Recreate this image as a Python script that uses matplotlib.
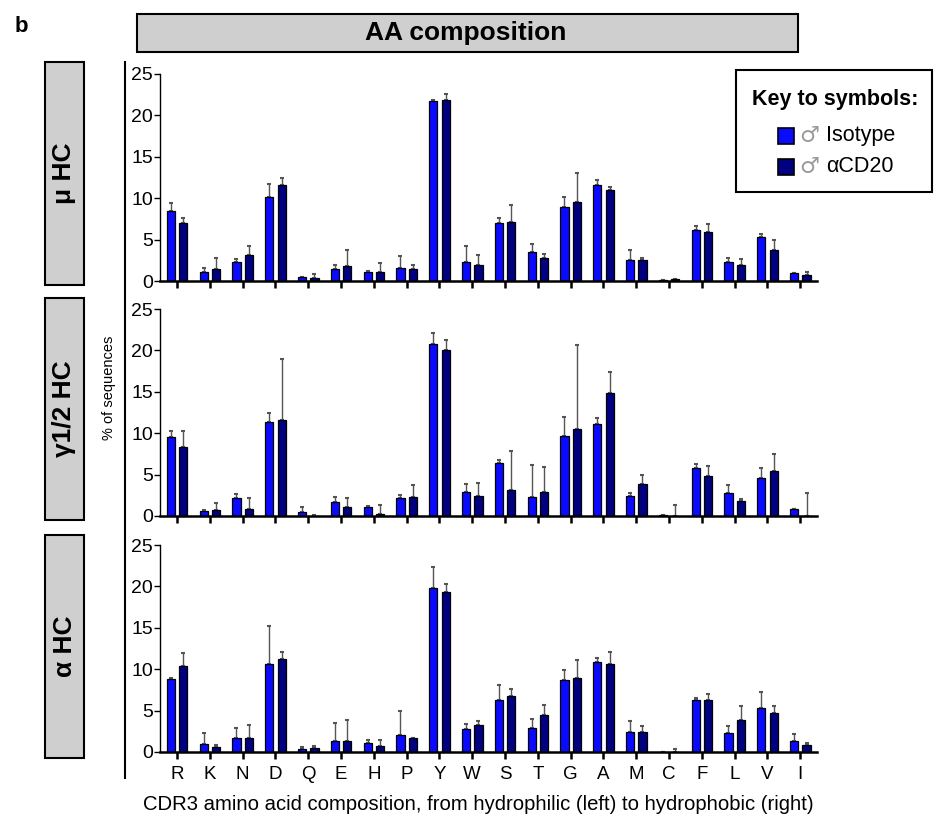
import matplotlib
matplotlib.use('Agg')
import matplotlib.pyplot as plt
from matplotlib.patches import Rectangle
from matplotlib.lines import Line2D
import numpy as np

#	-	-	-	-	-	DATA	-	-	-	-	-	#
amino = ['R', 'K', 'N', 'D', 'Q', 'E', 'H', 'P', 'Y', 'W',
         'S', 'T', 'G', 'A', 'M', 'C', 'F', 'L', 'V', 'I']

panel_names = ['\u03bc HC', '\u03b31/2 HC', '\u03b1 HC']
series_names = ['Isotype', '\u03b1CD20']

#	mu HC
mu_iso = [8.5, 1.09, 2.27, 10.2, 0.45, 1.46, 1.09, 1.62, 21.68, 2.27,
          6.96, 3.56, 8.9, 11.65, 2.5, 0.08, 6.15, 2.27, 5.26, 0.97]
mu_iso_err = [0.97, 0.51, 0.43, 1.5, 0.05, 0.48, 0.08, 1.45, 0.12, 1.93,
              0.64, 0.89, 1.3, 0.55, 1.3, 0.0, 0.45, 0.53, 0.4, 0.0]
mu_cd20 = [6.96, 1.5, 3.2, 11.65, 0.4, 1.86, 1.09, 1.46, 21.8, 1.98,
           7.08, 2.75, 9.55, 10.96, 2.5, 0.2, 5.9, 1.98, 3.72, 0.73]
mu_cd20_err = [0.64, 1.3, 1.0, 0.81, 0.4, 1.94, 1.05, 0.44, 0.77, 1.18,
               2.06, 0.55, 3.55, 0.44, 0.33, 0.04, 0.94, 0.62, 1.28, 0.4]

#	gamma1/2 HC
g_iso = [9.5, 0.57, 2.15, 11.32, 0.45, 1.75, 1.14, 2.15, 20.78, 2.84,
         6.37, 2.31, 9.66, 11.08, 2.44, 0.12, 5.84, 2.72, 4.55, 0.85]
g_iso_err = [0.73, 0.2, 0.49, 1.1, 0.65, 0.56, 0.04, 0.33, 1.34, 1.06,
             0.37, 3.89, 2.31, 0.77, 0.28, 0.0, 0.45, 0.97, 1.21, 0.0]
g_cd20 = [8.28, 0.73, 0.89, 11.6, 0.04, 1.14, 0.2, 2.31, 20.0, 2.44,
          3.08, 2.84, 10.55, 14.9, 3.9, 0.0, 4.83, 1.79, 5.48, 0.0]
g_cd20_err = [1.99, 0.85, 1.3, 7.4, 0.12, 1.05, 1.14, 1.46, 1.27, 1.5,
              4.82, 3.13, 10.05, 2.5, 1.01, 1.38, 1.26, 0.32, 1.95, 2.76]

#	alpha HC
a_iso = [8.79, 0.97, 1.73, 10.6, 0.32, 1.37, 1.09, 2.1, 19.8, 2.78,
         6.33, 2.9, 8.67, 10.89, 2.42, 0.0, 6.29, 2.26, 5.28, 1.37]
a_iso_err = [0.12, 1.29, 1.21, 4.6, 0.33, 2.1, 0.32, 2.86, 2.58, 0.65,
             1.82, 1.05, 1.29, 0.52, 1.33, 0.0, 0.28, 0.89, 1.94, 0.77]
a_cd20 = [10.4, 0.56, 1.69, 11.29, 0.44, 1.37, 0.69, 1.73, 19.27, 3.27,
          6.77, 4.48, 8.91, 10.65, 2.42, 0.0, 6.29, 3.87, 4.76, 0.81]
a_cd20_err = [1.54, 0.29, 1.58, 0.77, 0.25, 2.46, 0.76, 0.0, 1.05, 0.48,
              0.81, 1.21, 2.22, 1.37, 0.73, 0.32, 0.73, 1.69, 0.84, 0.32]

#	-	-	-	-	-	STYLE	-	-	-	-	-	#
W, H = 940, 826
iso_color = '#0a0aff'
cd20_color = '#000080'
box_grey = '#d0cfd0'
err_grey = '#555555'

plt.rcParams['font.family'] = ['Liberation Sans', 'DejaVu Sans']


def fx(px):
	return px / W


def fy(py):
	return 1 - py / H


fig = plt.figure(figsize=(9.4, 8.26), dpi=100)

#	-	-	-	-	-	PANELS	-	-	-	-	-	#
panels = [
	(mu_iso, mu_iso_err, mu_cd20, mu_cd20_err, 74, 281),
	(g_iso, g_iso_err, g_cd20, g_cd20_err, 309, 516),
	(a_iso, a_iso_err, a_cd20, a_cd20_err, 545, 752),
]
label_boxes = [(62, 285), (298, 520), (535, 758)]

x = np.arange(len(amino))
bw = 0.25
off = 0.19

for i, (iso, iso_e, cd, cd_e, ytop, ybot) in enumerate(panels):
	ax = fig.add_axes([fx(160), fy(ybot), fx(817) - fx(160), (ybot - ytop) / H])
	ax.bar(x - off, iso, bw, color=iso_color, edgecolor='black', linewidth=0.9, zorder=2)
	ax.bar(x + off, cd, bw, color=cd20_color, edgecolor='black', linewidth=0.9, zorder=2)
	zeros = np.zeros(len(amino))
	ax.errorbar(x - off, iso, yerr=[zeros, iso_e], fmt='none', ecolor=err_grey,
	            elinewidth=1.0, capsize=1.2, capthick=1.5, zorder=1)
	ax.errorbar(x + off, cd, yerr=[zeros, cd_e], fmt='none', ecolor=err_grey,
	            elinewidth=1.0, capsize=1.2, capthick=1.5, zorder=1)

	ax.set_xlim(-0.52, 19.51)
	ax.set_ylim(0, 25)
	ax.set_yticks([0, 5, 10, 15, 20, 25])
	ax.spines['top'].set_visible(False)
	ax.spines['right'].set_visible(False)
	ax.spines['left'].set_linewidth(1.0)
	ax.spines['bottom'].set_linewidth(1.8)
	ax.tick_params(axis='y', direction='out', length=4, width=1, labelsize=14, pad=1)
	ax.tick_params(axis='x', direction='out', length=5, width=1.8, labelsize=13.5, pad=5)
	ax.set_xticks(x)
	if i == 2:
		ax.set_xticklabels(amino)
	else:
		ax.set_xticklabels([])

	#	side label box
	bx0, bx1 = 45, 84
	by0, by1 = label_boxes[i]
	fig.add_artist(Rectangle((fx(bx0), fy(by1)), fx(bx1) - fx(bx0), (by1 - by0) / H,
	                         facecolor=box_grey, edgecolor='black', linewidth=1.5,
	                         transform=fig.transFigure))
	fig.text(fx((bx0 + bx1) / 2), fy((by0 + by1) / 2), panel_names[i], rotation=90,
	         ha='center', va='center', fontsize=19, fontweight='bold')

#	-	-	-	-	-	DECORATION	-	-	-	-	-	#
fig.text(fx(21), fy(27), 'b', fontsize=16, fontweight='bold', ha='center', va='center')

fig.add_artist(Rectangle((fx(137), fy(52)), fx(798) - fx(137), 38 / H,
                         facecolor=box_grey, edgecolor='black', linewidth=1.5,
                         transform=fig.transFigure))
fig.text(fx(466), fy(33), 'AA composition', fontsize=19, fontweight='bold',
         ha='center', va='center')

fig.add_artist(Line2D([fx(125), fx(125)], [fy(62), fy(778)], color='black',
                      linewidth=1.5, transform=fig.transFigure))

fig.text(fx(109), fy(388), '% of sequences', rotation=90, fontsize=10.5,
         ha='center', va='center')
fig.text(fx(478), fy(805), 'CDR3 amino acid composition, from hydrophilic (left) to hydrophobic (right)',
         fontsize=14.6, ha='center', va='center')

#	-	-	-	-	-	LEGEND	-	-	-	-	-	#
fig.add_artist(Rectangle((fx(736), fy(192)), fx(932) - fx(736), 122 / H,
                         facecolor='white', edgecolor='black', linewidth=1.5,
                         transform=fig.transFigure, zorder=5))
fig.text(fx(835), fy(100), 'Key to symbols:', fontsize=15.5, fontweight='bold',
         ha='center', va='center', zorder=6)
for j, (name, col) in enumerate(zip(series_names, [iso_color, cd20_color])):
	yc = 136 + j * 31
	fig.add_artist(Rectangle((fx(778), fy(yc + 8)), fx(794) - fx(778), 16 / H,
	                         facecolor=col, edgecolor='black', linewidth=1.2,
	                         transform=fig.transFigure, zorder=6))
	fig.text(fx(799), fy(yc), '\u2642', fontsize=16, color='#999999',
	         ha='left', va='center', family=['DejaVu Sans'], zorder=6)
	fig.text(fx(826), fy(yc), name, fontsize=15.5, ha='left', va='center', zorder=6)

fig.savefig('out.png', dpi=100)
